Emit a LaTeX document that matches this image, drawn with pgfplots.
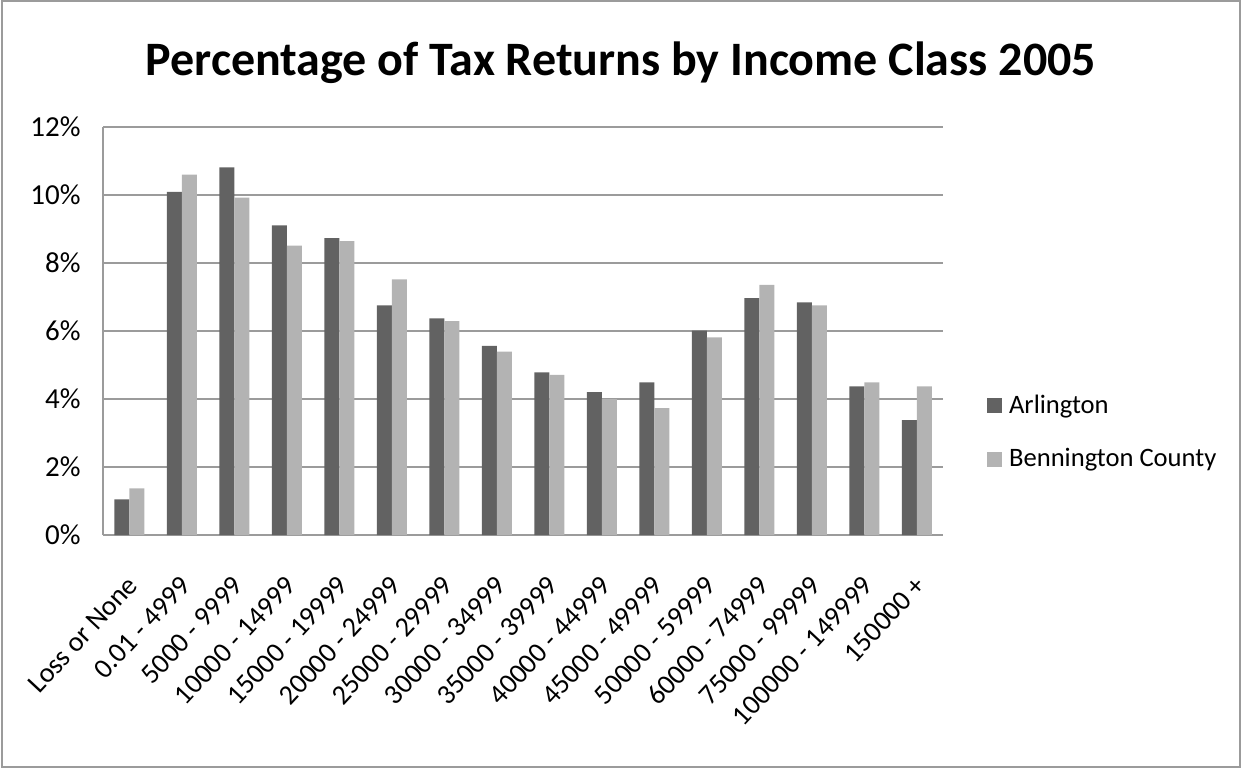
\documentclass[border=0pt]{standalone}
\usepackage{pgfplots}
\pgfplotsset{compat=1.18}
\usepackage{fontspec}
\setmainfont{Carlito}
\definecolor{darkbar}{RGB}{98,98,98}
\definecolor{lightbar}{RGB}{179,179,179}
\definecolor{gridc}{RGB}{155,155,155}
\newcommand{\lbl}{\fontsize{13.3bp}{15bp}\selectfont}
\newcommand{\xlbl}{\fontsize{14bp}{16bp}\selectfont}
\newcommand{\ylbl}{\fontsize{14.5bp}{16bp}\selectfont}
\begin{document}
\begin{tikzpicture}
\path[use as bounding box] (-51.5bp,-117bp) rectangle (570.5bp,267.5bp);
\draw[gridc, line width=1bp] (-50.5bp,-116bp) rectangle (568.5bp,267bp);
\begin{axis}[
  at={(0,0)}, anchor=south west, scale only axis,
  width=420bp, height=204bp,
  ybar=0pt, bar width=7.5bp,
  xmin=-0.5, xmax=15.5, ymin=0, ymax=12,
  xtick={0,...,15},
  xticklabels={Loss or None,0.01 - 4999,5000 - 9999,10000 - 14999,15000 - 19999,20000 - 24999,25000 - 29999,30000 - 34999,35000 - 39999,40000 - 44999,45000 - 49999,50000 - 59999,60000 - 74999,75000 - 99999,100000 - 149999,150000 +},
  ytick={0,2,4,6,8,10,12},
  yticklabels={0\%,2\%,4\%,6\%,8\%,10\%,12\%},
  axis x line=bottom, axis y line=left,
  axis line style={-, gridc, line width=1bp},
  ymajorgrids, grid style={gridc, line width=1bp},
  major tick length=0pt,
  xticklabel style={yshift=-19.5bp, xshift=-1.5bp, rotate=47, anchor=north east, inner sep=0pt, font=\xlbl},
  yticklabel style={xshift=-11bp, anchor=east, inner sep=0pt, font=\ylbl},
  legend style={at={(1.052,0.355)}, anchor=north west, draw=none, fill=none, font=\lbl, inner sep=0pt, row sep=12bp},
  legend cell align=left,
  legend image code/.code={\fill[#1,draw=none] (0bp,-4bp) rectangle (7.5bp,3.5bp);},
]
\addplot[fill=darkbar, draw=none] coordinates {
  (0,1.05) (1,10.09) (2,10.81) (3,9.11) (4,8.73) (5,6.75) (6,6.37) (7,5.56)
  (8,4.78) (9,4.20) (10,4.49) (11,6.01) (12,6.97) (13,6.84) (14,4.37) (15,3.38)};
\addplot[fill=lightbar, draw=none] coordinates {
  (0,1.37) (1,10.60) (2,9.92) (3,8.51) (4,8.64) (5,7.52) (6,6.29) (7,5.39)
  (8,4.71) (9,4.00) (10,3.73) (11,5.81) (12,7.36) (13,6.75) (14,4.49) (15,4.37)};
\legend{\hspace{1.5bp}Arlington, \hspace{1.5bp}Bennington County}
\end{axis}
\node[anchor=base] at (259bp,229.5bp) {\fontsize{24bp}{28bp}\selectfont\bfseries Percentage of Tax Returns by Income Class 2005};
\end{tikzpicture}
\end{document}
